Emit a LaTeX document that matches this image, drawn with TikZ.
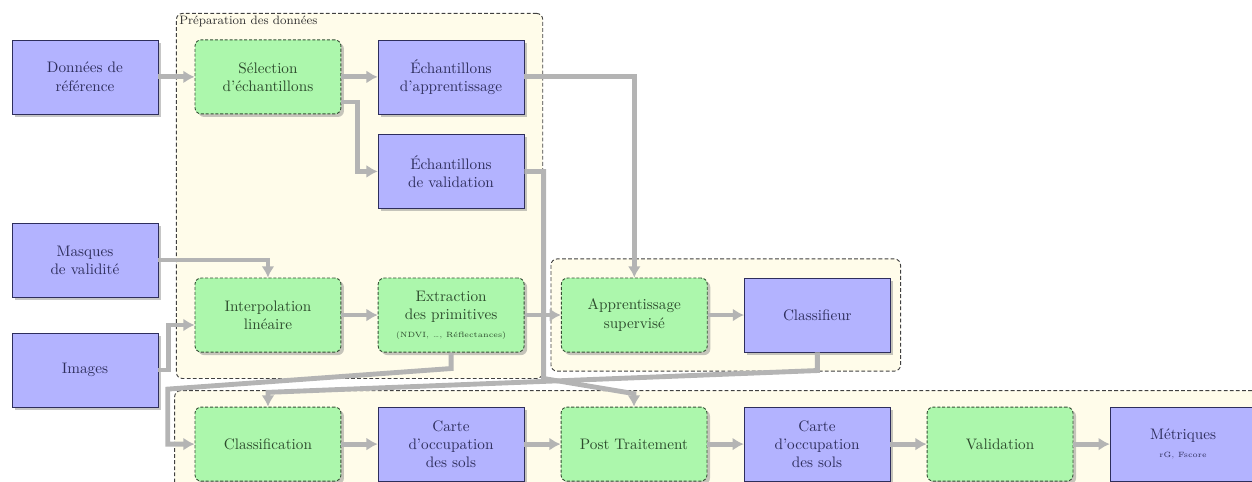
\documentclass[tikz,border=0pt]{standalone}
\usepackage{fontspec}
\usetikzlibrary{arrows.meta,positioning,calc,fit,shadows,backgrounds}
\definecolor{bluefill}{HTML}{B3B3FF}
\definecolor{bluetext}{HTML}{2E2E5C}
\definecolor{greenfill}{HTML}{ACF7AC}
\definecolor{greentext}{HTML}{2C4A2C}
\definecolor{greenline}{HTML}{355035}
\definecolor{cream}{HTML}{FFFCEA}
\definecolor{arrowgray}{HTML}{B4B4B4}
\definecolor{framegray}{HTML}{404040}
\tikzset{dataset/.style={draw=bluetext,fill=bluefill,text=bluetext,
  minimum width=3.37cm,minimum height=1.71cm,align=center,
  drop shadow={shadow xshift=2pt,shadow yshift=-2pt,opacity=.45}},
  process/.style={draw=greenline,line width=0.6pt,dash pattern=on 2pt off 1.2pt,
  fill=greenfill,text=greentext,rounded corners=4pt,minimum width=3.37cm,
  minimum height=1.71cm,align=center,
  drop shadow={shadow xshift=2pt,shadow yshift=-2pt,opacity=.45}},
  stage/.style={draw=framegray,line width=0.6pt,dash pattern=on 2.5pt off 1.5pt,
  fill=cream,rounded corners=4pt},
  flow/.style={-{Latex[length=2.6mm,width=3mm]},line width=3.2pt,draw=arrowgray}}

\begin{document}
\begin{tikzpicture}[node distance=1.25cm and 0.84cm]
\useasboundingbox (-6.19,-3.835) rectangle (22.73,7.277);
\node[process] (interp) {Interpolation\\linéaire};
\node[process,right=of interp] (extr) {Extraction\\des primitives\\{\tiny (NDVI, \dots, Réflectances)}};
\node[process,right=of extr] (sup) {Apprentissage\\supervisé};
\node[dataset,right=of sup] (clf) {Classifieur};
\node[dataset,left=of interp,yshift=1.27cm] (masq) {Masques\\de validité};
\node[dataset,left=of interp,yshift=-1.27cm] (img) {Images};
\node[process,above=3.77cm of interp] (sel) {Sélection\\d’échantillons};
\node[dataset,left=of sel] (ref) {Données de\\référence};
\node[dataset,right=of sel] (app) {Échantillons\\d’apprentissage};
\node[dataset,below=0.46cm of app] (val) {Échantillons\\de validation};
\node[process,below=of interp] (cls) {Classification};
\node[dataset,right=of cls] (carte1) {Carte\\d’occupation\\des sols};
\node[process,right=of carte1] (post) {Post Traitement};
\node[dataset,right=of post] (carte2) {Carte\\d’occupation\\des sols};
\node[process,right=of carte2] (valid) {Validation};
\node[dataset,right=of valid] (metr) {Métriques\\{\tiny rG, Fscore}};
% cadres
\begin{scope}[on background layer]
\node[stage,fit=(sel)(app)(val)(interp)(extr),inner xsep=0.42cm,inner ysep=0.6cm] (prep) {};
\node[stage,fit=(sup)(clf),inner xsep=0.23cm,inner ysep=0.43cm] (learn) {};
\node[stage,fit=(cls)(metr),inner xsep=0.46cm,inner ysep=0.37cm] (prod) {};
\end{scope}
\node[anchor=north west,font=\footnotesize,inner sep=2pt,text=black!80] (preplabel) at (prep.north west) {Préparation des données};
% fleches
\draw[flow] (ref)--(sel);
\draw[flow] (sel)--(app);
\draw[flow] ([yshift=-0.58cm]sel.east) -- ++(0.37,0) |- (val);
\draw[flow] (app) -| (sup);
\draw[flow] (val) -| ($(extr.south east)+(0.44,-0.6)$) -- ($(post.north)+(0,0.3)$) -- (post);
\draw[flow] (masq) -| (interp);
\draw[flow] (img.east) -- ++(0.23,0) |- ([yshift=-0.23cm]interp.west);
\draw[flow] (interp)--(extr);
\draw[flow] (extr)--(sup);
\draw[flow] (sup)--(clf);
\draw[flow] (extr.south) -- ++(0,-0.37) -- ([shift={(-0.62,1.27)}]cls.west) |- (cls);
\draw[flow] (clf.south) -- ++(0,-0.42) -- ([yshift=0.33cm]cls.north) -- (cls);
\draw[flow] (cls)--(carte1);\draw[flow] (carte1)--(post);
\draw[flow] (post)--(carte2);\draw[flow] (carte2)--(valid);
\draw[flow] (valid)--(metr);
\end{tikzpicture}
\end{document}
